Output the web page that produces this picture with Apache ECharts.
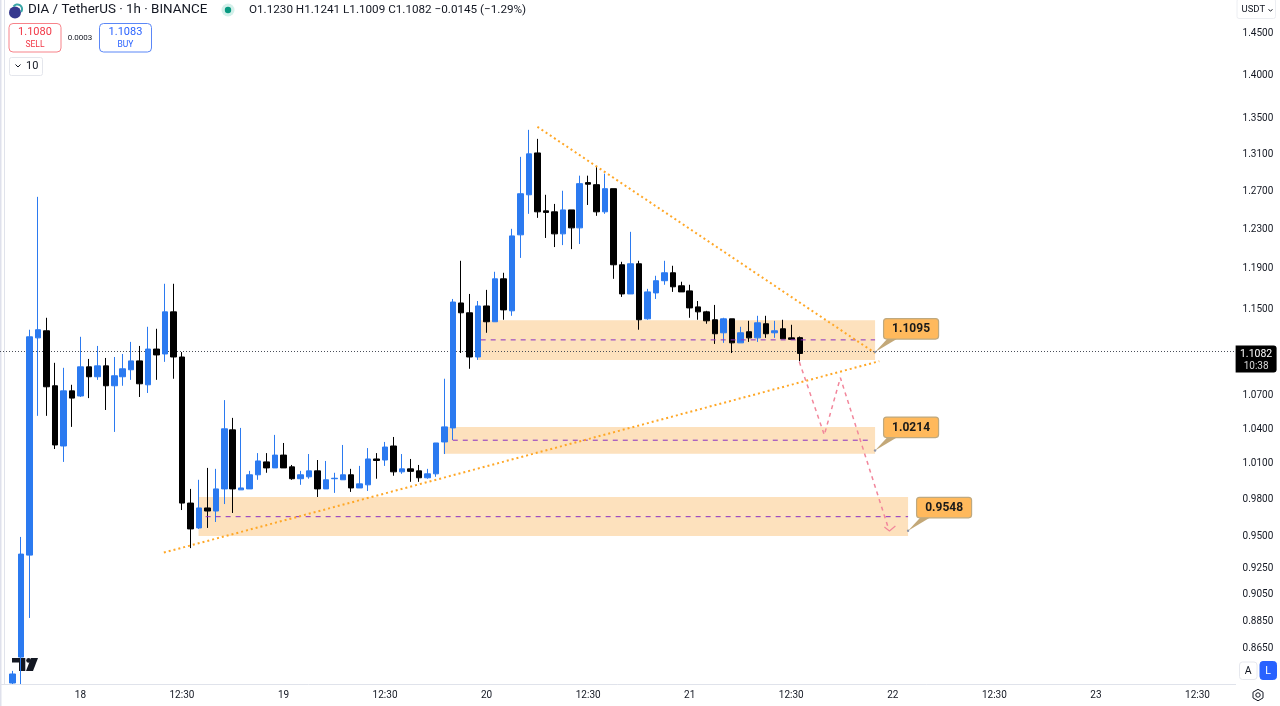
<!DOCTYPE html>
<html><head><meta charset="utf-8"><title>DIA / TetherUS</title>
<style>html,body{margin:0;padding:0;background:#fff}#c{width:1280px;height:706px}</style>
<script src="https://cdn.jsdelivr.net/npm/echarts@6/dist/echarts.min.js"></script></head>
<body><div id="c"></div><script>
// ---- candle values (hourly), left to right
const opens=[.8402,.8587,.9355,1.1228,1.1295,1.0785,1.0253,1.0739,1.0693,1.0958,1.0867,1.0967,1.0785,1.0867,1.0931,1.1013,1.0794,1.1123,1.1077,1.1476,1.1049,.9773,.9571,.9733,.9708,.9890,1.0393,.9882,.9890,1.0008,1.0117,1.0066,1.0175,1.0075,.9975,.9991,1.0041,.9890,.9975,.9966,1.0008,.9898,.9924,1.0142,1.0133,1.0253,1.0033,1.0058,1.0041,.9983,1.0016,1.0288,1.0410,1.1562,1.1467,1.1049,1.1533,1.1381,1.1799,1.1486,1.2243,1.2662,1.3115,1.2492,1.2482,1.2253,1.2502,1.2315,1.2792,1.2770,1.2482,1.2727,1.1939,1.1650,1.1949,1.1409,1.1660,1.1780,1.1859,1.1730,1.1680,1.1524,1.1476,1.1400,1.1276,1.1409,1.1181,1.1286,1.1228,1.1362,1.1276,1.1314,1.1228,1.1230];
const closes=[.8466,.9363,1.1238,1.1305,1.0776,1.0262,1.0739,1.0674,1.0958,1.0867,1.0967,1.0785,1.0876,1.0940,1.1013,1.0803,1.1123,1.1068,1.1476,1.1049,.9773,.9563,.9733,.9708,.9890,1.0402,.9890,.9898,1.0008,1.0125,1.0066,1.0175,1.0066,.9975,1.0008,1.0041,.9890,.9966,.9979,1.0008,.9898,.9932,1.0142,1.0129,1.0244,1.0033,1.0058,1.0037,.9983,1.0016,1.0279,1.0419,1.1571,1.1467,1.1049,1.1533,1.1381,1.1799,1.1495,1.2232,1.2673,1.3105,1.2482,1.2476,1.2253,1.2502,1.2315,1.2781,1.2775,1.2482,1.2727,1.1939,1.1650,1.1949,1.1400,1.1670,1.1780,1.1859,1.1720,1.1670,1.1514,1.1476,1.1390,1.1267,1.1409,1.1181,1.1276,1.1228,1.1371,1.1267,1.1295,1.1219,1.1214,1.1082];
const lows=[.8395,.8395,.8874,1.0516,1.0516,1.0227,1.0117,1.0419,1.0684,1.0674,1.0839,1.0568,1.0375,1.0785,1.0839,1.0684,1.0720,1.0839,1.1004,1.0849,.9716,.9410,.9563,.9571,.9619,.9765,.9692,.9882,.9890,.9966,1.0025,1.0066,1.0066,.9966,.9924,.9975,.9823,.9890,.9857,.9966,.9865,.9898,.9873,.9975,1.0083,1.0000,1.0016,.9949,.9949,.9975,.9991,1.0184,1.0305,1.1086,1.0940,1.1022,1.1276,1.1381,1.1400,1.1438,1.2008,1.2461,1.2419,1.2211,1.2118,1.2138,1.2097,1.2149,1.2554,1.2440,1.2461,1.1799,1.1621,1.1650,1.1305,1.1400,1.1601,1.1740,1.1670,1.1670,1.1419,1.1400,1.1362,1.1171,1.1181,1.1086,1.1181,1.1190,1.1190,1.1228,1.1228,1.1219,1.1209,1.1009];
const highs=[.8488,.9499,1.1305,1.2640,1.1419,1.0995,1.0949,1.0794,1.1238,1.1031,1.1152,1.1040,1.1049,1.1077,1.1190,1.1152,1.1333,1.1314,1.1750,1.1750,1.1095,.9890,.9966,1.0066,1.0058,1.0656,1.0498,1.0410,1.0041,1.0192,1.0192,1.0349,1.0279,1.0091,1.0041,1.0184,1.0133,1.0125,1.0025,1.0262,1.0058,1.0083,1.0235,1.0192,1.0288,1.0331,1.0184,1.0142,1.0091,1.0058,1.0279,1.0849,1.1601,1.1979,1.1650,1.1581,1.1690,1.1869,1.1859,1.2305,1.3072,1.3372,1.3271,1.2662,1.2565,1.2705,1.2502,1.2867,1.2867,1.2964,1.2889,1.2727,1.1969,1.2274,1.1979,1.1700,1.1829,1.1979,1.1929,1.1770,1.1740,1.1581,1.1486,1.1543,1.1419,1.1409,1.1333,1.1390,1.1438,1.1438,1.1390,1.1400,1.1352,1.1241];
// ---- axes
const slotCount=146;
const categories=Array.from({length:slotCount},(_,k)=>String(k));
const xTickSlots=[9,21,33,45,57,69,81,93,105,117,129,141];
const xTickLabels=['18','12:30','19','12:30','20','12:30','21','12:30','22','12:30','23','12:30'];
const yTicks=[1.45,1.40,1.35,1.31,1.27,1.23,1.19,1.15,1.07,1.04,1.01,.98,.95,.925,.905,.885,.865];
const lastPrice=1.1082;
// ---- drawings: zones [fromSlot,toSlot,top,bottom]
const zones=[[56,102.9,1.1395,1.1022],[51.9,102.9,1.0419,1.0186],[22.96,106.8,.9823,.9507]];
const zoneLines=[[56.3,102.9,1.1209],[53,102.3,1.0303],[23.8,106.8,.9662]];
const trendUpper=[[63,1.3406],[102.9,1.1086]];
const trendLower=[[18.86,.9375],[103.4,1.1010]];
const projection=[[93.95,1.1004],[96.9,1.0349],[98.8,1.0858],[104.5,.9563]];
const projectionHead=[[104,.9579],[104.6,.9547],[105.3,.9587]];
const callouts=[[102.9,1.1095,'1.1095'],[102.9,1.0214,'1.0214'],[106.8,.9548,'0.9548']];

const UP='#2b7af0',DOWN='#000000',FONT='Roboto',INK='#131722';
const candles=opens.map((o,i)=>[o,closes[i],lows[i],highs[i]]);
candles.unshift(['-','-','-','-']);
const lineSeries=(data,color,width,type,z)=>({type:'line',xAxisIndex:1,data,symbol:'none',silent:true,z,clip:false,
  lineStyle:{color,width,type},animation:false});
const t=(x,y,text,size,color,extra)=>({type:'text',x,y,silent:true,style:Object.assign({text,fontSize:size,fontFamily:FONT,fill:color,verticalAlign:'middle'},extra||{})});
const r=(x,y,w,h,fill,stroke,rad,lw)=>({type:'rect',silent:true,shape:{x,y,width:w,height:h,r:rad||0},style:{fill,stroke,lineWidth:lw||1}});

const option={
  animation:false,backgroundColor:'#fff',
  grid:{left:-1,top:0,width:1236.6,height:684,containLabel:false},
  xAxis:[
    {type:'category',data:categories,boundaryGap:true,axisTick:{show:false},splitLine:{show:false},
     axisLine:{lineStyle:{color:'#e0e3eb'}},
     axisLabel:{interval:(k)=>xTickSlots.includes(k),formatter:(v,k)=>{const a=xTickSlots.indexOf(k);return a<0?'':xTickLabels[a];},
       color:INK,fontFamily:FONT,fontSize:10,margin:6,hideOverlap:false}},
    {type:'value',min:-.5,max:slotCount-.5,show:false,splitLine:{show:false}}
  ],
  yAxis:{type:'log',logBase:10,position:'right',min:.8395,max:1.4913,splitLine:{show:false},axisTick:{show:false},
    axisLine:{show:true,lineStyle:{color:'#e0e3eb'}},
    axisLabel:{show:true,customValues:yTicks,formatter:(v)=>Number(v).toFixed(4),color:INK,fontFamily:FONT,fontSize:10,margin:7,padding:[3,0,0,0]}},
  series:[
    {type:'line',xAxisIndex:1,data:[],symbol:'none',silent:true,
     markArea:{silent:true,z:1,itemStyle:{color:'#fde1bd',opacity:1},
       data:zones.map(a=>[{coord:[a[0],a[2]]},{coord:[a[1],a[3]]}])}},
    {type:'candlestick',data:candles,barWidth:6,z:3,silent:true,
     itemStyle:{color:UP,color0:DOWN,borderColor:UP,borderColor0:DOWN,borderWidth:1},
     markLine:{silent:true,symbol:'none',z:2,label:{show:false},lineStyle:{color:'#4a4e59',type:[1,2],width:1},data:[{yAxis:lastPrice}]}},
    ...zoneLines.map(a=>lineSeries([[a[0],a[2]],[a[1],a[2]]],'#8a2fc0',1,[5,5],4)),
    lineSeries(trendUpper,'#ffa726',2,[2,3],5),
    lineSeries(trendLower,'#ffa726',2,[2,3],5),
    lineSeries(projection,'#f2869b',1.5,[4,4],5),
    lineSeries(projectionHead,'#f2869b',1.2,'solid',5),
    {type:'custom',xAxisIndex:1,silent:true,clip:false,z:7,data:callouts,
     renderItem:(p,api)=>{
       const c=api.coord([api.value(0),api.value(1)]);const label=callouts[p.dataIndex][2];
       const bx=c[0]+8.5,by=c[1]-33.5;
       return {type:'group',children:[
         {type:'polygon',shape:{points:[[c[0],c[1]],[bx+4,by+20],[bx+14,by+20]]},style:{fill:'#c3a878'}},
         {type:'circle',shape:{cx:c[0],cy:c[1],r:1.2},style:{fill:'#8f96a8'}},
         {type:'rect',shape:{x:bx,y:by,width:55,height:20.5,r:3},style:{fill:'#ffb95c',stroke:'#bfa97f',lineWidth:1.2}},
         {type:'text',style:{x:bx+27.5,y:by+10.5,text:label,fontFamily:FONT,fontSize:12,fontWeight:'bold',fill:'#1a1a1a',align:'center',verticalAlign:'middle'}}
       ]};
     }},
    {type:'custom',xAxisIndex:1,silent:true,clip:false,z:8,data:[[slotCount-.5,lastPrice]],
     renderItem:(p,api)=>{
       const c=api.coord([api.value(0),api.value(1)]);
       return {type:'group',children:[
         {type:'rect',shape:{x:c[0],y:c[1]-8,width:41,height:27,r:[0,3,3,0]},style:{fill:'#000'}},
         {type:'text',style:{x:c[0]+20.5,y:c[1]+.5,text:lastPrice.toFixed(4),fontFamily:FONT,fontSize:10.5,fill:'#fff',align:'center',verticalAlign:'middle'}},
         {type:'text',style:{x:c[0]+20.5,y:c[1]+13,text:'10:38',fontFamily:FONT,fontSize:10,fill:'#d8d8d8',align:'center',verticalAlign:'middle'}}
       ]};
     }}
  ],
  graphic:{elements:[
    r(0,0,1.5,706,'#dfe1ec'),
    {type:'circle',silent:true,shape:{cx:15,cy:12.5,r:6},style:{fill:'#36398f'}},
    {type:'arc',silent:true,shape:{cx:17.5,cy:9,r:4.6,startAngle:-2.6,endAngle:.7},style:{stroke:'#3aa6a6',lineWidth:2,fill:null}},
    t(28,10,'DIA / TetherUS · 1h · BINANCE',13.4,INK),
    {type:'circle',silent:true,shape:{cx:228,cy:10,r:6.5},style:{fill:'#d3f0ea'}},
    {type:'circle',silent:true,shape:{cx:228,cy:10,r:3.2},style:{fill:'#089981'}},
    t(249,10,'O1.1230 H1.1241 L1.1009 C1.1082 −0.0145 (−1.29%)',11.7,INK),
    r(9,23.5,52,28.5,'#fff','#f7838a',4),
    t(35,32,'1.1080',11,'#f23645',{align:'center'}),
    t(35,44.5,'SELL',8.5,'#f23645',{align:'center'}),
    t(80,38,'0.0003',8,INK,{align:'center'}),
    r(99.5,23.5,52,28.5,'#fff','#5b87f7',4),
    t(125.5,32,'1.1083',11,'#2962ff',{align:'center'}),
    t(125.5,44.5,'BUY',8.5,'#2962ff',{align:'center'}),
    r(9.5,57.5,33,18,'#fff','#e4e6ec',2),
    {type:'polyline',silent:true,shape:{points:[[15.5,64.5],[18,67],[20.5,64.5]]},style:{stroke:INK,lineWidth:1,fill:null}},
    t(26,66.5,'10',11,INK),
    r(1237,-1,38.5,19.5,'#fff','#eceef2',2),
    t(1241.5,10,'USDT',9.5,INK),
    {type:'polyline',silent:true,shape:{points:[[1268.5,9.5],[1270.5,11],[1272.5,9.5]]},style:{stroke:INK,lineWidth:1,fill:null}},
    r(1239.5,662,17.5,17.5,'#fff','#e6e8ee',3),
    t(1248.2,671,'A',10.5,INK,{align:'center'}),
    r(1260,661.5,16.5,18,'#2962ff','#2962ff',3),
    t(1268.2,671,'L',10.5,'#fff',{align:'center'}),
    {type:'polygon',silent:true,shape:{points:[[1258,689.3],[1263,692.2],[1263,697.9],[1258,700.8],[1253,697.9],[1253,692.2]]},style:{fill:'#fff',stroke:INK,lineWidth:1}},
    {type:'circle',silent:true,shape:{cx:1258,cy:695,r:2.2},style:{fill:'#fff',stroke:INK,lineWidth:1}},
    {type:'polygon',silent:true,shape:{points:[[12,658],[25.3,658],[25.3,671],[19,671],[19,662.5],[12,662.5]]},style:{fill:'#131722'}},
    {type:'circle',silent:true,shape:{cx:28.6,cy:660.4,r:2.4},style:{fill:'#131722'}},
    {type:'polygon',silent:true,shape:{points:[[31,658],[38,658],[33,671],[26,671]]},style:{fill:'#131722'}}
  ]}
};
const chart=echarts.init(document.getElementById('c'),null,{width:1280,height:706});
chart.setOption(option);
</script></body></html>
